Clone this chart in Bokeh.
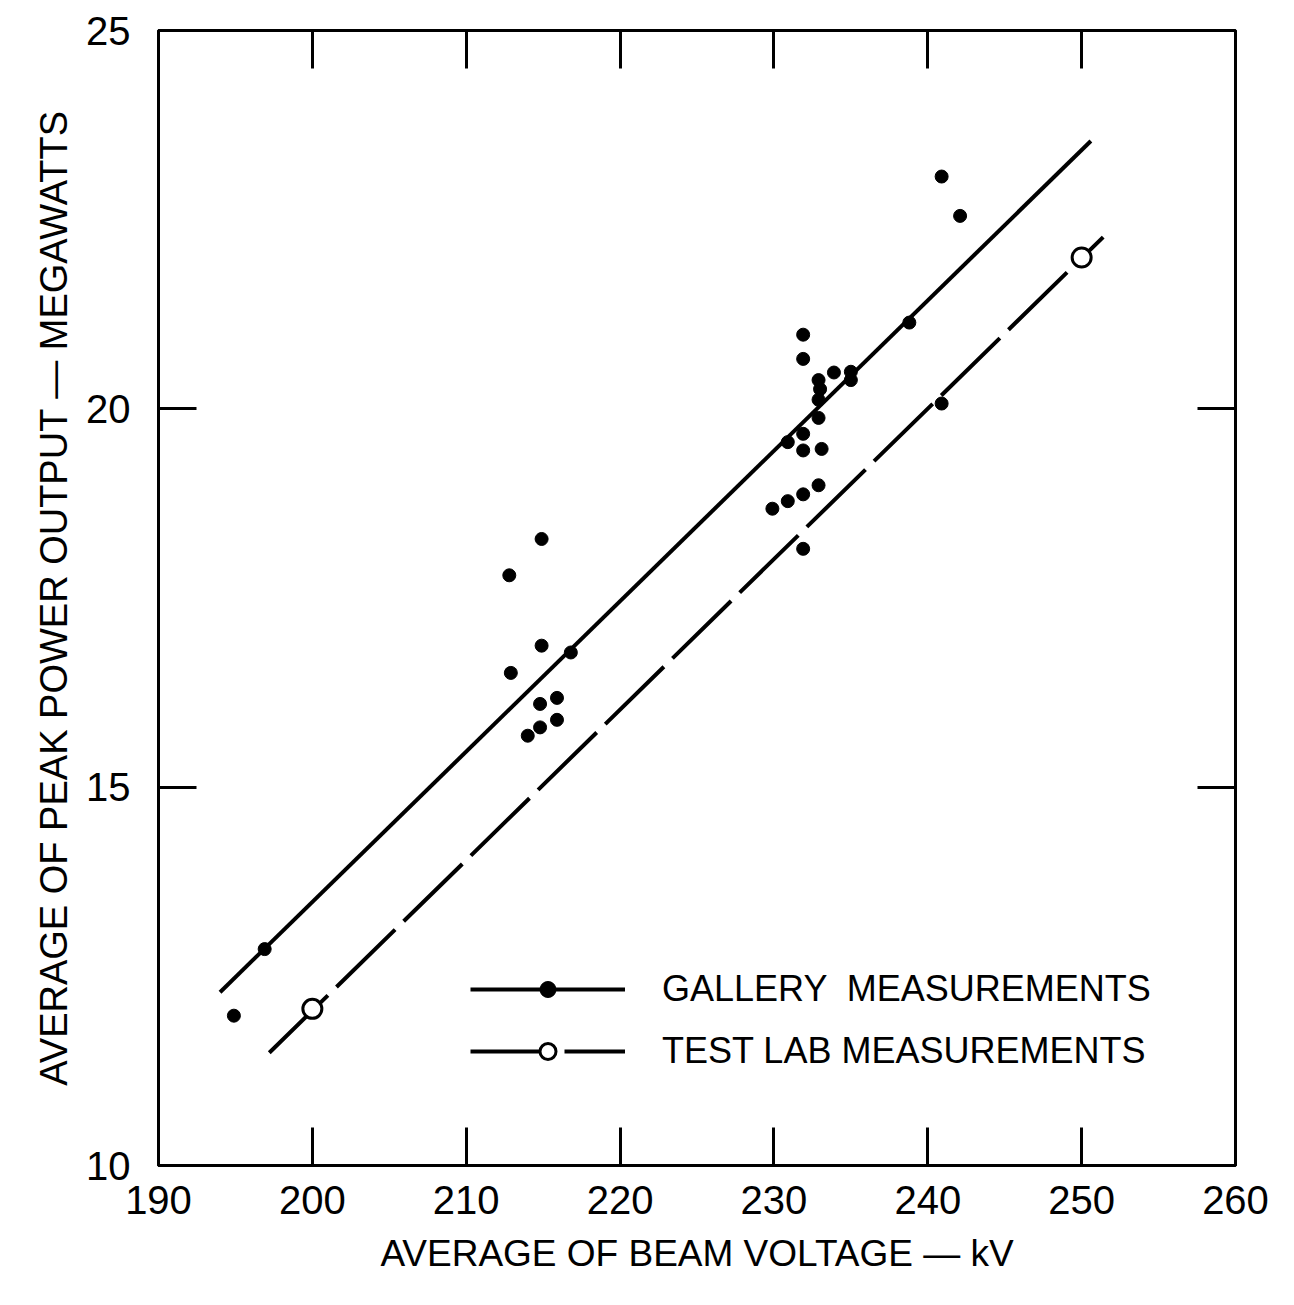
from bokeh.plotting import figure
from bokeh.models import Range1d, FixedTicker, LinearAxis, Legend, LegendItem
from bokeh.embed import file_html
from bokeh.resources import INLINE

# ---- data ----
gallery_kv = [214.9, 212.8, 214.9, 216.8, 212.9, 215.9, 214.8, 215.9, 214.8, 214.0,
              231.9, 231.9, 233.9, 235.0, 235.0, 232.9, 233.0, 232.9, 232.9, 231.9,
              230.9, 231.9, 233.1, 232.9, 231.9, 230.9, 229.9, 231.9,
              240.9, 242.1, 238.8, 240.9, 196.9, 194.9]
gallery_mw = [18.28, 17.80, 16.87, 16.78, 16.51, 16.18, 16.10, 15.89, 15.79, 15.68,
              20.98, 20.66, 20.48, 20.49, 20.38, 20.38, 20.26, 20.12, 19.88, 19.67,
              19.56, 19.45, 19.47, 18.99, 18.87, 18.78, 18.68, 18.15,
              23.07, 22.55, 21.14, 20.07, 12.86, 11.98]

gallery_fit_kv = [194.0, 250.6]
gallery_fit_mw = [12.29, 23.54]

lab_kv = [200.0, 250.0]
lab_mw = [12.07, 22.0]
lab_fit_kv = [197.2, 251.4]
lab_fit_mw = [11.49, 22.27]

x_ticks = [190, 200, 210, 220, 230, 240, 250, 260]
y_ticks = [10, 15, 20, 25]
top_ticks = [200, 210, 220, 230, 240, 250]
right_ticks = [15, 20]

x_title = "AVERAGE OF BEAM VOLTAGE — kV"
y_title = "AVERAGE OF PEAK POWER OUTPUT — MEGAWATTS"
gallery_label = "GALLERY  MEASUREMENTS"
lab_label = "TEST LAB MEASUREMENTS"

FONT = "Liberation Sans"

p = figure(width=1286, height=1298, x_range=Range1d(190, 260), y_range=Range1d(10, 25),
           output_backend="svg", toolbar_location=None,
           min_border_left=158, min_border_right=51, min_border_top=30, min_border_bottom=133)
p.grid.visible = False
p.background_fill_color = "white"
p.border_fill_color = "white"
p.outline_line_color = "black"
p.outline_line_width = 3


def style_axis(ax, ticks, show_labels=True):
    ax.ticker = FixedTicker(ticks=ticks)
    ax.major_tick_in = 38
    ax.major_tick_out = 0
    ax.minor_tick_line_color = None
    ax.major_tick_line_width = 3
    ax.major_tick_line_color = "black"
    ax.axis_line_width = 3
    ax.axis_line_color = "black"
    ax.major_label_text_font = FONT
    ax.major_label_text_color = "black"
    ax.major_label_text_font_size = "40px"
    ax.axis_label_text_font = FONT
    ax.axis_label_text_font_size = "37px"
    ax.axis_label_text_font_style = "normal"
    ax.axis_label_text_color = "black"
    if not show_labels:
        ax.major_label_overrides = {t: "" for t in ticks}


xa = p.xaxis[0]
style_axis(xa, x_ticks)
xa.axis_label = x_title
xa.major_label_standoff = 20
xa.axis_label_standoff = 16

ya = p.yaxis[0]
style_axis(ya, y_ticks)
ya.axis_label = y_title
ya.major_label_standoff = 28
ya.axis_label_standoff = 8
ya.axis_label_text_font_size = "38px"

top = LinearAxis()
style_axis(top, top_ticks, show_labels=False)
p.add_layout(top, "above")
right = LinearAxis()
style_axis(right, right_ticks, show_labels=False)
p.add_layout(right, "right")

g_line = p.line(gallery_fit_kv, gallery_fit_mw, line_color="black", line_width=4)
l_line = p.line(lab_fit_kv, lab_fit_mw, line_color="black", line_width=4, line_dash="82 12")
g_pts = p.scatter(gallery_kv, gallery_mw, marker="circle", size=13,
                  fill_color="black", line_color="black")
l_pts = p.scatter(lab_kv, lab_mw, marker="circle", size=19,
                  fill_color="white", line_color="black", line_width=3)

legend = Legend(items=[LegendItem(label=gallery_label, renderers=[g_line, g_pts]),
                       LegendItem(label=lab_label, renderers=[l_line, l_pts])],
                location=(312, 93))
legend.glyph_width = 155
legend.glyph_height = 40
legend.label_standoff = 37
legend.spacing = 20
legend.padding = 0
legend.margin = 0
legend.border_line_color = None
legend.background_fill_alpha = 0
legend.label_text_font = FONT
legend.label_text_font_size = "36px"
legend.label_text_color = "black"
legend.label_height = 40
p.add_layout(legend)

open("out.html", "w").write(file_html(p, INLINE))
